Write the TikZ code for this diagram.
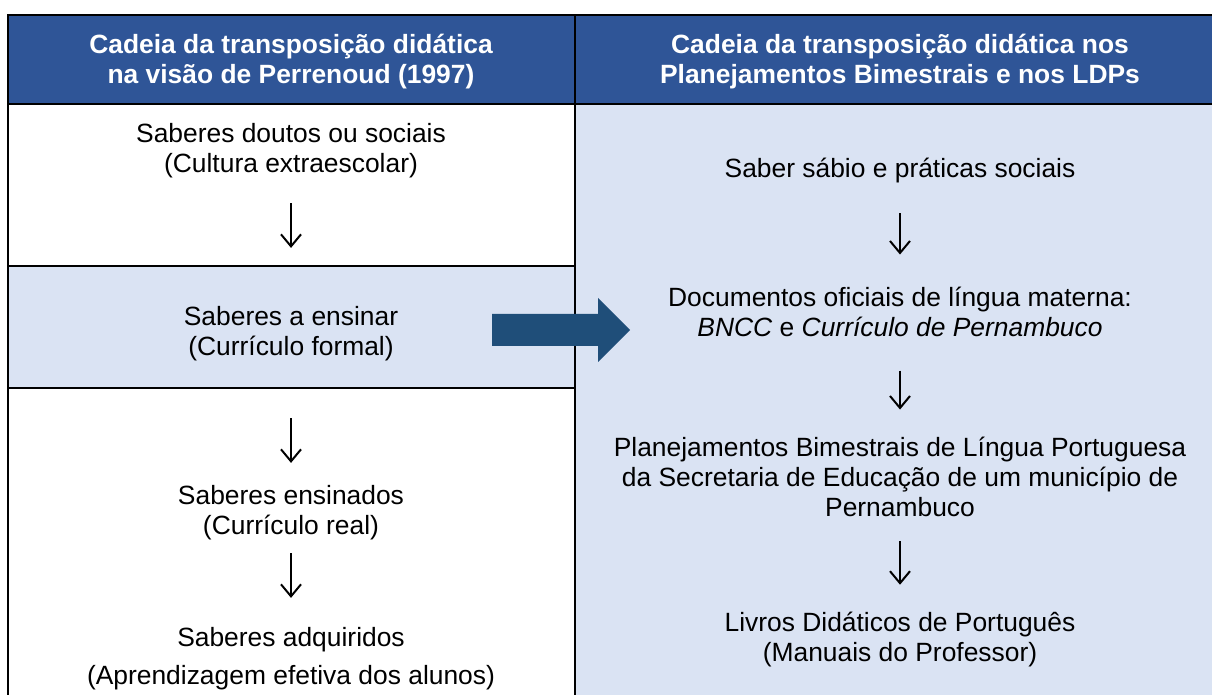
\documentclass[tikz,border=0pt]{standalone}
\usepackage{fontspec}
\setmainfont{Liberation Sans}
\usepackage{tikz}
\usetikzlibrary{arrows.meta}
\definecolor{cabec}{HTML}{2F5597}
\definecolor{claro}{HTML}{DAE3F3}
\definecolor{setaazul}{HTML}{1F4E79}
\tikzset{
	TX/.style={align=center,inner sep=0pt,font=\fontsize{13.2pt}{15pt}\selectfont}
}
\tikzset{
	CB/.style={TX,text=white,font=\fontsize{13.2pt}{15pt}\selectfont\bfseries}
}
\tikzset{
	SB/.style 2 args={-{Straight Barb[length=6pt,width=10pt,line width=1pt]},line width=1pt,shorten <=#1,shorten >=#2}
}

\begin{document}
\begin{tikzpicture}[x=0.5pt,y=-0.5pt]
	\useasboundingbox (0,0) rectangle (1212,695);
	\fill[cabec] (8,15) rectangle (1212,104);
	\fill[claro] (575,104) rectangle (1212,695);
	\fill[claro] (8,266) rectangle (575,388);
	\draw[line width=1pt] (8,695) -- (8,15) -- (1212,15);
	\draw[line width=1pt] (8,104) -- (1212,104);
	\draw[line width=1pt] (575,15) -- (575,695);
	\draw[line width=1pt] (8,266) -- (575,266);
	\draw[line width=1pt] (8,388) -- (575,388);
	\node[CB] (HA) at (291,62) {Cadeia da transposição didática\\na visão de Perrenoud (1997)};
	\node[CB] (HB) at (900,62) {Cadeia da transposição didática nos\\Planejamentos Bimestrais e nos LDPs};
	\node[TX] (doutos) at (291,150.6) {Saberes doutos ou sociais\\(Cultura extraescolar)};
	\node[TX] (ensinar) at (291,333.6) {Saberes a ensinar\\(Currículo formal)};
	\node[TX] (ensinados) at (291,512.6) {Saberes ensinados\\(Currículo real)};
	\node[TX] (adquiridos) at (291,658.6) {Saberes adquiridos\\[4pt](Aprendizagem efetiva dos alunos)};
	\node[TX] (sabio) at (900,170.6) {Saber sábio e práticas sociais};
	\node[TX] (documentos) at (900,311.8) {Documentos oficiais de língua materna:\\\textit{BNCC} e \textit{Currículo de Pernambuco}};
	\node[TX] (planej) at (900,476.8) {Planejamentos Bimestrais de Língua Portuguesa\\da Secretaria de Educação de um município de\\Pernambuco};
	\node[TX] (livros) at (900,639.6) {Livros Didáticos de Português\\(Manuais do Professor)};
	\draw[SB={12.5pt}{29pt}] (doutos) -- (ensinar);
	\draw[SB={28.5pt}{11pt}] (ensinar) -- (ensinados);
	\draw[SB={6.5pt}{14.5pt}] (ensinados) -- (adquiridos);
	\draw[SB={15pt}{16pt}] (sabio) -- (documentos);
	\draw[SB={16.8pt}{13.5pt}] (documentos) -- (planej);
	\draw[SB={12pt}{13.5pt}] (planej) -- (livros);
	\fill[setaazul] (492,314) -- (598,314) -- (598,298) -- (630,330) -- (598,362) -- (598,346) -- (492,346) -- cycle;
\end{tikzpicture}
\end{document}
